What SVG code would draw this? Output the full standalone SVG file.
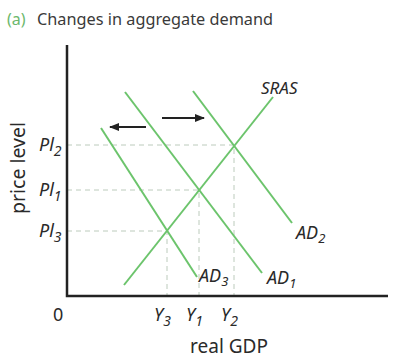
<svg xmlns="http://www.w3.org/2000/svg" width="411" height="363" viewBox="0 0 411 363">
<defs>
<marker id="ah" markerWidth="10" markerHeight="8" refX="9" refY="4" orient="auto" markerUnits="userSpaceOnUse">
<path d="M0,0 L10,4 L0,8 Z" fill="#222"/>
</marker>
<style>
.t{font-family:"Noto Sans","Liberation Sans",sans-serif;fill:#2a2a2a}
.i{font-style:italic}
.g{stroke:#6cc46c;stroke-width:2;fill:none}
.d{stroke:#bccbbc;stroke-width:1;stroke-dasharray:5,4;fill:none}
.ax{stroke:#222;stroke-width:2.5;fill:none}
.ar{stroke:#222;stroke-width:2;fill:none}
</style>
</defs>
<rect width="411" height="363" fill="#fff"/>
<g id="title">
<text class="t" x="7" y="25" font-size="16" style="fill:#6cb86c">(a)</text>
<text class="t" x="37" y="25" font-size="16.3" style="fill:#3a3a3a">Changes in aggregate demand</text>
</g>
<g id="connectors">
<path class="d" d="M67,145 H234 V296"/>
<path class="d" d="M67,190 H199 V296"/>
<path class="d" d="M67,231 H167 V296"/>
<line class="ar" x1="146" y1="127" x2="110" y2="127" marker-end="url(#ah)"/>
<line class="ar" x1="162" y1="118" x2="204" y2="118" marker-end="url(#ah)"/>
</g>
<g id="axes">
<path class="ax" d="M67,45 V296 H388"/>
</g>
<g id="SRAS">
<line class="g" x1="124" y1="285" x2="273" y2="97"/>
<text class="t i" x="261" y="94" font-size="17">SRAS</text>
</g>
<g id="AD1">
<line class="g" x1="125" y1="92" x2="262" y2="273"/>
<text class="t i" x="267" y="284" font-size="18">AD<tspan font-size="13" dy="4">1</tspan></text>
</g>
<g id="AD2">
<line class="g" x1="193" y1="91" x2="292" y2="223"/>
<text class="t i" x="296" y="239" font-size="18">AD<tspan font-size="13" dy="4">2</tspan></text>
</g>
<g id="AD3">
<line class="g" x1="101" y1="128" x2="197" y2="277"/>
<text class="t i" x="199" y="282" font-size="18">AD<tspan font-size="13" dy="4">3</tspan></text>
</g>
<g id="ylabels">
<text class="t i" x="39" y="151" font-size="18">Pl<tspan font-size="14" dy="5">2</tspan></text>
<text class="t i" x="39" y="196" font-size="18">Pl<tspan font-size="14" dy="5">1</tspan></text>
<text class="t i" x="39" y="237" font-size="18">Pl<tspan font-size="14" dy="5">3</tspan></text>
<text class="t" x="25" y="168" font-size="19.5" text-anchor="middle" transform="rotate(-90 25 168)">price level</text>
</g>
<g id="xlabels">
<text class="t" x="53" y="321" font-size="18">0</text>
<text class="t i" x="154" y="321" font-size="18">Y<tspan font-size="14" dy="5">3</tspan></text>
<text class="t i" x="186" y="321" font-size="18">Y<tspan font-size="14" dy="5">1</tspan></text>
<text class="t i" x="221" y="321" font-size="18">Y<tspan font-size="14" dy="5">2</tspan></text>
<text class="t" x="229" y="353" font-size="19" text-anchor="middle">real GDP</text>
</g>
</svg>
